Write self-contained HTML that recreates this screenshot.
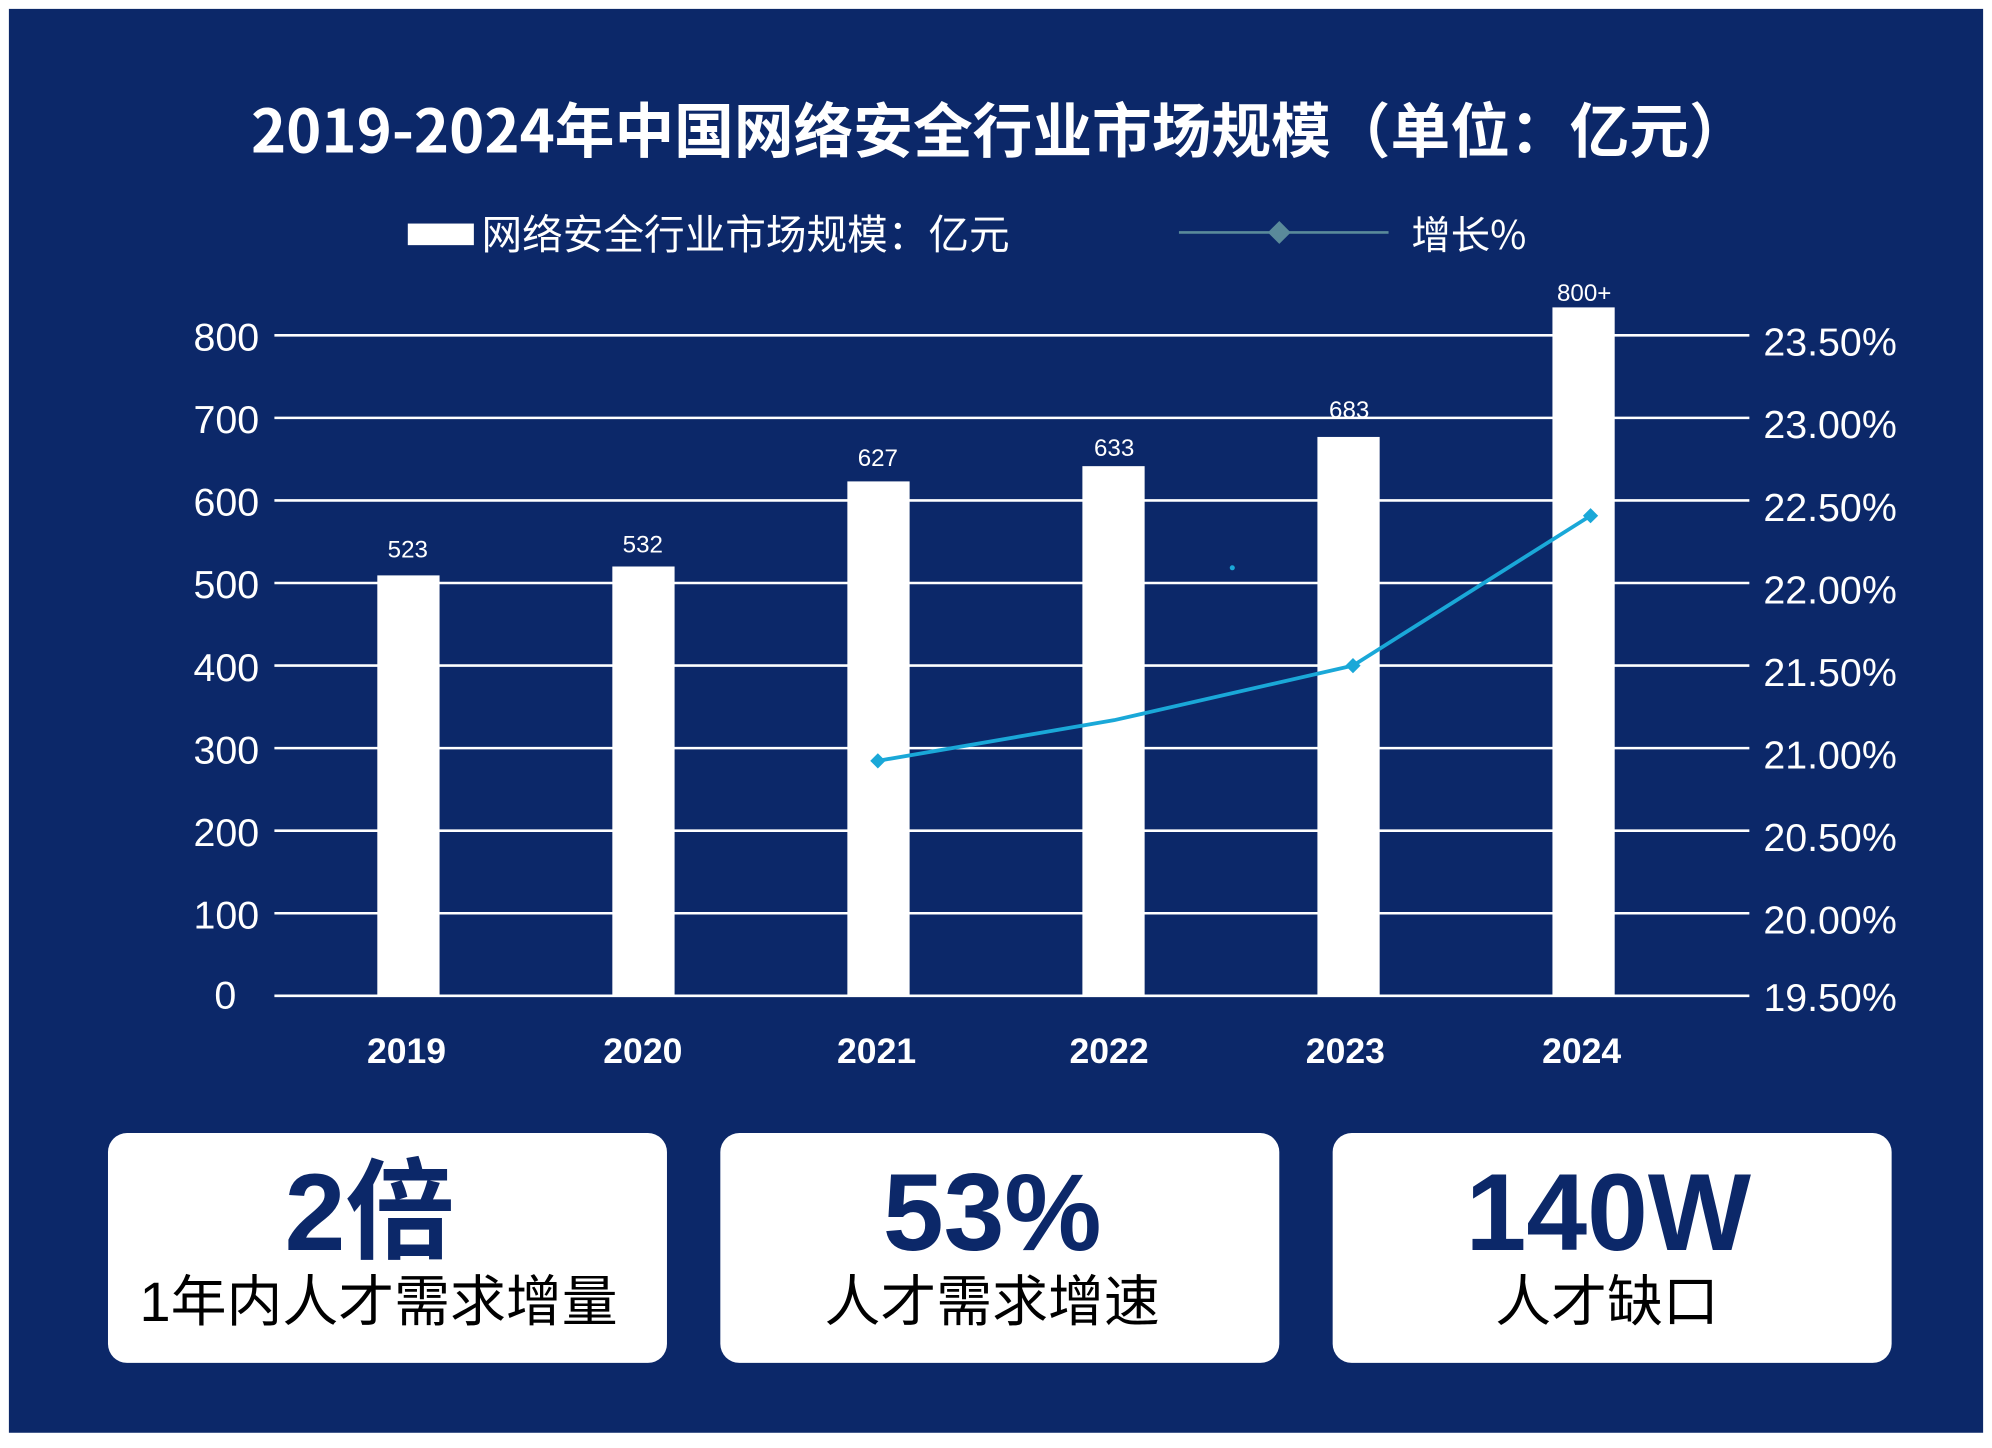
<!DOCTYPE html>
<html><head><meta charset="utf-8"><style>
html,body{margin:0;padding:0;background:#fff;}
svg{display:block;}
text{font-family:"Liberation Sans","Noto Sans CJK SC",sans-serif;}
</style></head><body>
<svg width="1992" height="1448" viewBox="0 0 1568 1140" preserveAspectRatio="none" xmlns="http://www.w3.org/2000/svg">
<rect x="0" y="0" width="1568" height="1140" fill="#fff"/>
<rect x="7" y="7" width="1554" height="1121" fill="#0c2869"/>
<text x="787" y="120" fill="#fff" font-size="47" font-weight="bold" text-anchor="middle" style='font-family:"Noto Sans CJK SC",sans-serif'>2019-2024年中国网络安全行业市场规模（单位：亿元）</text>
<rect x="321" y="176" width="52" height="17" fill="#fff"/>
<text x="379" y="196" fill="#fff" font-size="32" style='font-family:"Noto Sans CJK SC",sans-serif'>网络安全行业市场规模：亿元</text>
<line x1="928" y1="183" x2="1093" y2="183" stroke="#5a8a9a" stroke-width="2"/>
<polygon points="1007,174 1016,183 1007,192 998,183" fill="#5a8a9a"/>
<text x="1111" y="196" fill="#fff" font-size="31" style='font-family:"Noto Sans CJK SC",sans-serif'>增长%</text>
<g stroke="#fff" stroke-width="2">
<line x1="216" y1="264" x2="1377" y2="264"/><line x1="216" y1="329" x2="1377" y2="329"/>
<line x1="216" y1="394" x2="1377" y2="394"/><line x1="216" y1="459" x2="1377" y2="459"/>
<line x1="216" y1="524" x2="1377" y2="524"/><line x1="216" y1="589" x2="1377" y2="589"/>
<line x1="216" y1="654" x2="1377" y2="654"/><line x1="216" y1="719" x2="1377" y2="719"/>
<line x1="216" y1="784" x2="1377" y2="784"/>
</g>
<g fill="#fff" font-size="31" text-anchor="end">
<text x="204" y="276">800</text><text x="204" y="341">700</text><text x="204" y="406">600</text>
<text x="204" y="471">500</text><text x="204" y="536">400</text><text x="204" y="601">300</text>
<text x="204" y="666">200</text><text x="204" y="731">100</text><text x="186" y="794">0</text>
</g>
<g fill="#fff" font-size="31">
<text x="1388" y="280">23.50%</text><text x="1388" y="345">23.00%</text><text x="1388" y="410">22.50%</text>
<text x="1388" y="475">22.00%</text><text x="1388" y="540">21.50%</text><text x="1388" y="605">21.00%</text>
<text x="1388" y="670">20.50%</text><text x="1388" y="735">20.00%</text><text x="1388" y="796">19.50%</text>
</g>
<g fill="#fff">
<rect x="297" y="453" width="49" height="331"/><rect x="482" y="446" width="49" height="338"/>
<rect x="667" y="379" width="49" height="405"/><rect x="852" y="367" width="49" height="417"/>
<rect x="1037" y="344" width="49" height="440"/><rect x="1222" y="242" width="49" height="542"/>
</g>
<g fill="#fff" font-size="19" text-anchor="middle">
<text x="321" y="439">523</text><text x="506" y="435">532</text><text x="691" y="367">627</text>
<text x="877" y="359">633</text><text x="1062" y="329">683</text><text x="1247" y="237">800+</text>
</g>
<g fill="#fff" font-size="28" font-weight="bold" text-anchor="middle" style='font-family:"Noto Sans CJK SC",sans-serif'>
<text x="320" y="837">2019</text><text x="506" y="837">2020</text><text x="690" y="837">2021</text>
<text x="873" y="837">2022</text><text x="1059" y="837">2023</text><text x="1245" y="837">2024</text>
</g>
<polyline points="691,599 877,567 1065,524 1252,406" fill="none" stroke="#1aa8d8" stroke-width="3"/>
<g fill="#1aa8d8">
<polygon points="691,593 697,599 691,605 685,599"/><polygon points="1065,518 1071,524 1065,530 1059,524"/>
<polygon points="1252,400 1258,406 1252,412 1246,406"/><circle cx="970" cy="447" r="2"/>
</g>
<g fill="#fff">
<rect x="85" y="892" width="440" height="181" rx="15"/>
<rect x="567" y="892" width="440" height="181" rx="15"/>
<rect x="1049" y="892" width="440" height="181" rx="15"/>
</g>
<g fill="#0c2869" font-size="86" font-weight="bold" text-anchor="middle" style='font-family:"Liberation Sans","Noto Sans CJK SC",sans-serif'>
<text x="291" y="984">2倍</text><text x="781" y="984">53%</text><text x="1266" y="984">140W</text>
</g>
<g fill="#000" font-size="44" text-anchor="middle" style='font-family:"Liberation Sans","Noto Sans CJK SC",sans-serif'>
<text x="298" y="1040">1年内人才需求增量</text><text x="781" y="1040">人才需求增速</text><text x="1265" y="1040">人才缺口</text>
</g>
</svg>
</body></html>
